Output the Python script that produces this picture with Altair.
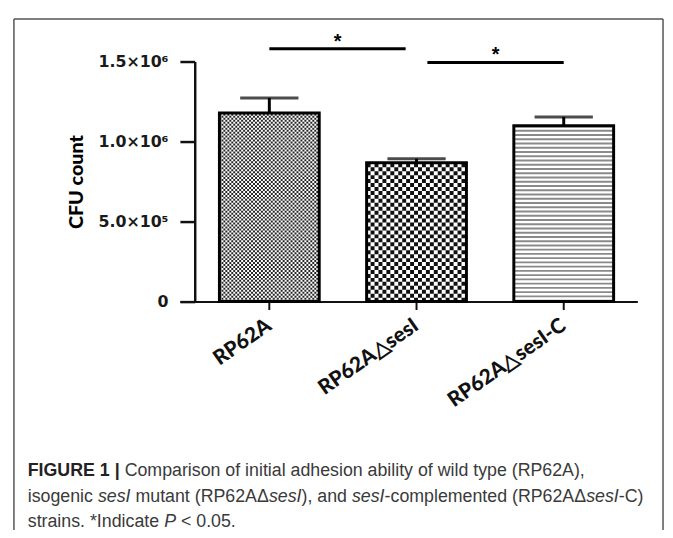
import altair as alt
import pandas as pd

# ---------------- data ----------------
STRAINS = ["RP62A", "RP62A△sesI", "RP62A△sesI-C"]
CFU_MEAN = [1179000, 868000, 1099000]
CFU_SEM = [93000, 25000, 55000]
Y_TICKS = [0, 500000, 1000000, 1500000]
Y_TICK_LABELS = ["0", "5.0×10⁵", "1.0×10⁶", "1.5×10⁶"]
Y_TITLE = "CFU count"
SIG_FROM = ["RP62A", "RP62A△sesI"]
SIG_TO = ["RP62A△sesI", "RP62A△sesI-C"]
SIG_Y = [1580000, 1494000]
SIG_TEXT = ["*", "*"]
CAPTION_LINES = [
    [("FIGURE 1 |", "bold"),
     (" Comparison of initial adhesion ability of wild type (RP62A),", "normal")],
    [("isogenic ", "normal"), ("sesI", "italic"), (" mutant (RP62AΔ", "normal"),
     ("sesI", "italic"), ("), and ", "normal"), ("sesI", "italic"),
     ("-complemented (RP62AΔ", "normal"), ("sesI", "italic"), ("-C)", "normal")],
    [("strains. *Indicate ", "normal"), ("P", "italic"), (" < 0.05.", "normal")],
]

# ---------------- layout ----------------
PAD = {"left": 174, "top": 51, "right": 28, "bottom": 228}
W, H = 463, 243


def px(page_x):
    return page_x - 8 - PAD["left"]


def py(page_y):
    return page_y - 8 - PAD["top"]


df = pd.DataFrame({"strain": STRAINS, "cfu": CFU_MEAN, "sem": CFU_SEM})
df["top"] = df["cfu"] + df["sem"]
df["zero"] = 0

xscale = alt.Scale(domain=STRAINS, paddingInner=0.322, paddingOuter=0.2148, align=0.625)
x_axis = alt.Axis(
    title=None, labelAngle=-35, labelAlign="right", labelBaseline="middle",
    labelFont="Lato", labelFontWeight=900, labelFontSize=21, labelColor="#111",
    labelPadding=14, labelLimit=400, tickSize=8, tickWidth=2, tickColor="#111",
    domainWidth=2, domainColor="#111", grid=False,
)
label_expr = " : ".join(
    f"datum.value == {v} ? '{l}'" for v, l in zip(Y_TICKS, Y_TICK_LABELS)
) + " : ''"
y_axis = alt.Axis(
    values=Y_TICKS, labelExpr=label_expr, offset=-15, grid=False,
    domainWidth=2.5, domainColor="#111", tickSize=15, tickWidth=2.5, tickColor="#111",
    labelFont="DejaVu Sans", labelFontWeight="bold", labelFontSize=16, labelColor="#1a1a1a",
    labelPadding=12, titleFont="Lato", titleFontWeight=900, titleFontSize=20,
    titleColor="#000", titlePadding=12,
)
yscale = alt.Scale(domain=[0, 1500000], nice=False, zero=True)


def x_of(field="strain"):
    return alt.X(f"{field}:N", sort=STRAINS, scale=xscale, axis=x_axis)


def y_of(field):
    return alt.Y(f"{field}:Q", scale=yscale, axis=y_axis, title=Y_TITLE)


base = alt.Chart(df)

bar_bg = base.mark_bar(fill="white").encode(x=x_of(), y=y_of("cfu"))

# texture columns (style only) for the two checkered bars
BAND_PX = 101
CELL = {STRAINS[0]: 2, STRAINS[1]: 4}
rows = []
for s, v in zip(STRAINS, CFU_MEAN):
    if s in CELL:
        c = CELL[s]
        for k in range(BAND_PX // c):
            rows.append({"strain": s, "cfu": v, "zero": 0,
                         "off": c / 2 + c * k, "par": k % 2, "cell": c})
pat = pd.DataFrame(rows)

pattern_layers = []
for c, col in ((2, "#262626"), (4, "#111")):
    for p in (0, 1):
        sub = pat[(pat["cell"] == c) & (pat["par"] == p)]
        pattern_layers.append(
            alt.Chart(sub).mark_rule(strokeWidth=c, strokeDash=[c, c],
                                     strokeDashOffset=c * p, color=col)
            .encode(x=x_of(), xOffset=alt.XOffset("off:Q", scale=None),
                    y=y_of("zero"), y2="cfu:Q")
        )

stripes = base.transform_filter(alt.datum.strain == STRAINS[2]).mark_rule(
    strokeWidth=100, strokeDash=[2, 2.3], color="#8a8a8a"
).encode(x=x_of(), y=y_of("zero"), y2="cfu:Q")

outline = base.mark_bar(fillOpacity=0, stroke="#000", strokeWidth=3).encode(
    x=x_of(), y=y_of("cfu"))

err = base.mark_rule(strokeWidth=3, color="#000").encode(
    x=x_of(), y=y_of("cfu"), y2="top:Q")
cap = base.mark_tick(size=59, thickness=3, color="#000").encode(
    x=x_of(), y=y_of("top"))

sig = pd.DataFrame({"a": SIG_FROM, "b": SIG_TO, "y": SIG_Y, "t": SIG_TEXT})
sig_layers = []
for i, (o1, o2) in enumerate(((0, -11), (11, 0))):
    d = sig.iloc[[i]]
    sig_layers.append(
        alt.Chart(d).mark_rule(strokeWidth=3, color="#000", xOffset=o1, x2Offset=o2)
        .encode(x=x_of("a"), x2="b:N", y=y_of("y"))
    )
    sig_layers.append(
        alt.Chart(d).mark_text(font="Liberation Sans", fontWeight="bold", fontSize=20,
                               baseline="alphabetic", align="center",
                               xOffset=o1 + (149 + o2 - o1) / 2, dy=-1, color="#000")
        .encode(x=x_of("a"), y=y_of("y"), text="t:N")
    )

# ---------------- figure frame and caption ----------------
FRAME = "#555"
frame_layers = [
    alt.Chart(alt.Data(values=[{}])).mark_rule(color=FRAME, strokeWidth=1.5).encode(
        x=alt.value(px(14)), x2=alt.value(px(671)), y=alt.value(py(16))),
    alt.Chart(alt.Data(values=[{}])).mark_rule(color=FRAME, strokeWidth=1.5).encode(
        x=alt.value(px(14)), y=alt.value(py(16)), y2=alt.value(py(540))),
    alt.Chart(alt.Data(values=[{}])).mark_rule(color=FRAME, strokeWidth=1.5).encode(
        x=alt.value(px(671)), y=alt.value(py(16)), y2=alt.value(py(540))),
]

CAP_SIZE = 18
W_REG = {' ': 278, '(': 333, ')': 333, '*': 389, ',': 278, '-': 333, '.': 278,
         '<': 584, '|': 260, 'Δ': 668, 'A': 667, 'C': 722, 'F': 611, 'G': 778,
         'I': 278, 'P': 667, 'R': 722, 'U': 722, 'E': 667, 'a': 556, 'b': 556,
         'c': 500, 'd': 556, 'e': 556, 'f': 278, 'g': 556, 'h': 556, 'i': 222,
         'l': 222, 'm': 833, 'n': 556, 'o': 556, 'p': 556, 'r': 333, 's': 500,
         't': 278, 'u': 556, 'w': 722, 'y': 500}
W_BOLD = {' ': 278, '|': 280, 'F': 611, 'I': 278, 'G': 778, 'U': 722, 'R': 722,
          'E': 667}


def seg_w(txt, style):
    tab = W_BOLD if style == "bold" else W_REG
    return sum(tab.get(ch, 556) for ch in txt) * CAP_SIZE / 1000


caption_layers = []
BASELINES = [479, 505, 530]
for line, base_y in zip(CAPTION_LINES, BASELINES):
    x0 = 28
    for txt, style in line:
        lead = txt[: len(txt) - len(txt.lstrip(" "))]
        body = txt.lstrip(" ")
        x_start = x0 + seg_w(lead, style)
        caption_layers.append(
            alt.Chart(alt.Data(values=[{"t": body}])).mark_text(
                font="Liberation Sans", fontSize=CAP_SIZE, align="left",
                baseline="alphabetic",
                fontWeight="bold" if style == "bold" else "normal",
                fontStyle="italic" if style == "italic" else "normal",
                color="#222" if style == "bold" else "#3a3a3a",
            ).encode(x=alt.value(px(x_start)), y=alt.value(py(base_y)), text="t:N")
        )
        x0 += seg_w(txt, style)

chart = alt.layer(
    bar_bg, *pattern_layers, stripes, outline, err, cap, *sig_layers,
    *frame_layers, *caption_layers,
).properties(
    width=W, height=H, padding=PAD, background="white",
    autosize=alt.AutoSizeParams(type="none"),
).configure_view(stroke=None)

chart.save("out.html", embed_options={"renderer": "svg", "actions": False})
